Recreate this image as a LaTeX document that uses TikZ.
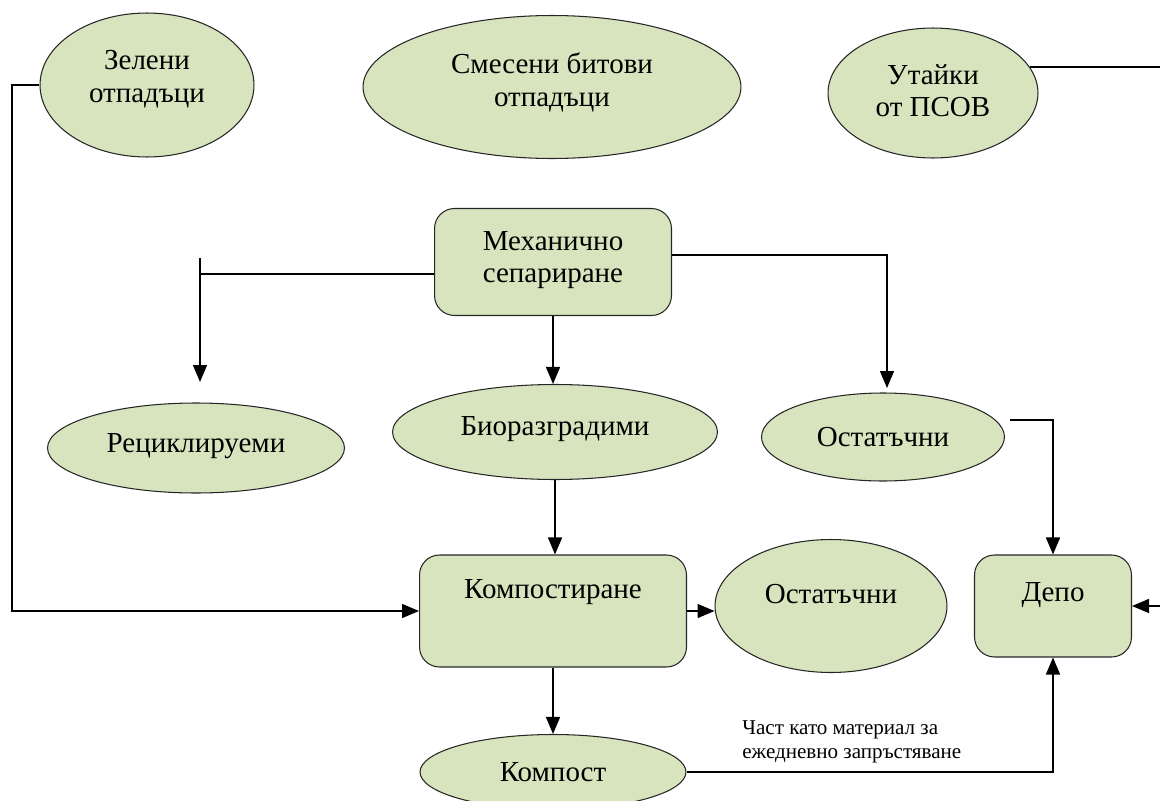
\documentclass[tikz,border=0pt]{standalone}
\usepackage{fontspec}
\setmainfont{Liberation Serif}
\usepackage{xcolor}
\usetikzlibrary{arrows.meta}
\usetikzlibrary{shapes.geometric}
\usetikzlibrary{calc}
\definecolor{leafgreen}{HTML}{D7E4BD}
\begin{document}
\begin{tikzpicture}[x=0.02cm,y=-0.02cm,
	oval/.style={ellipse,draw=black!85,line width=0.6pt,fill=leafgreen,inner sep=0pt,align=center,
		font=\fontsize{16.5}{18.5}\selectfont},
	stage/.style={rectangle,rounded corners=0.4cm,draw=black!85,line width=0.6pt,fill=leafgreen,inner sep=0pt,align=center,
		font=\fontsize{16.5}{18.5}\selectfont},
	arr/.style={line width=0.85pt,-{Triangle[length=0.34cm,width=0.28cm]}},
	link/.style={line width=0.85pt}]
	\useasboundingbox (0,0) rectangle (1160,801);
	
	% Sources
	\node[oval,minimum width=4.28cm,minimum height=2.88cm,text depth=0.35cm] (zeleni) at (147,85) {Зелени\\отпадъци};
	\node[oval,minimum width=7.56cm,minimum height=2.86cm,text depth=0.3cm] (smeseni) at (552,87) {Смесени битови\\отпадъци};
	\node[oval,minimum width=4.2cm,minimum height=2.6cm,text depth=0.1cm] (utaiki) at (933,93) {Утайки\\от ПСОВ};
	
	% Separation
	\node[stage,minimum width=4.74cm,minimum height=2.14cm,text depth=0.2cm] (mehan) at (553,262) {Механично\\сепариране};
	\node[oval,minimum width=5.94cm,minimum height=1.8cm,text depth=0.2cm] (recikl) at (196,448) {Рециклируеми};
	\node[oval,minimum width=6.5cm,minimum height=1.9cm,text depth=0.25cm] (bio) at (555,432) {Биоразградими};
	\node[oval,minimum width=4.86cm,minimum height=1.76cm] (ostat1) at (883,437) {Остатъчни};
	
	% Treatment
	\node[stage,minimum width=5.34cm,minimum height=2.24cm,text depth=0.9cm] (kompostir) at (553,611) {Компостиране};
	\node[oval,minimum width=4.64cm,minimum height=2.66cm,text depth=0.5cm] (ostat2) at (831,606) {Остатъчни};
	\node[stage,minimum width=3.14cm,minimum height=2.04cm,text depth=0.55cm] (depo) at (1053,606) {Депо};
	\node[oval,minimum width=5.32cm,minimum height=1.5cm] (kompost) at (553,772) {Компост};
	\node[anchor=west,align=left,inner sep=0pt,font=\fontsize{12}{13.5}\selectfont] (note) at (742,742)
		{Част като материал за\\ежедневно запръстяване};
	
	% Free ends
	\coordinate (gleft) at (12,611);
	\coordinate (redge) at (1160,0);
	\coordinate (lbranch) at (200,274);
	\coordinate (rtip) at (200,382);
	\coordinate (otip) at (887,388);
	
	% Connectors
	\draw[arr] (zeleni.west) -| (gleft) -- (kompostir.west);
	\draw[link] (utaiki.15) -- (utaiki.15 -| redge);
	\draw[arr] (redge |- depo.east) -- (depo.east);
	\draw[link] (mehan.west |- lbranch) -- (lbranch);
	\draw[arr] ($(rtip)+(0,-124)$) -- (rtip);
	\draw[arr] ($(mehan.east)+(0,-7)$) -| (otip);
	\draw[arr] (mehan.south) -- (mehan.south |- bio.north);
	\draw[arr] ($(ostat1.east)+(5,-17)$) -| (depo.north);
	\draw[arr] (bio.south) -- (bio.south |- kompostir.north);
	\draw[arr] (kompostir.east) -- (kompostir.east -| ostat2.west);
	\draw[arr] (kompostir.south) -- (kompostir.south |- kompost.north);
	\draw[arr] (kompost.east) -| (depo.south);
\end{tikzpicture}
\end{document}
